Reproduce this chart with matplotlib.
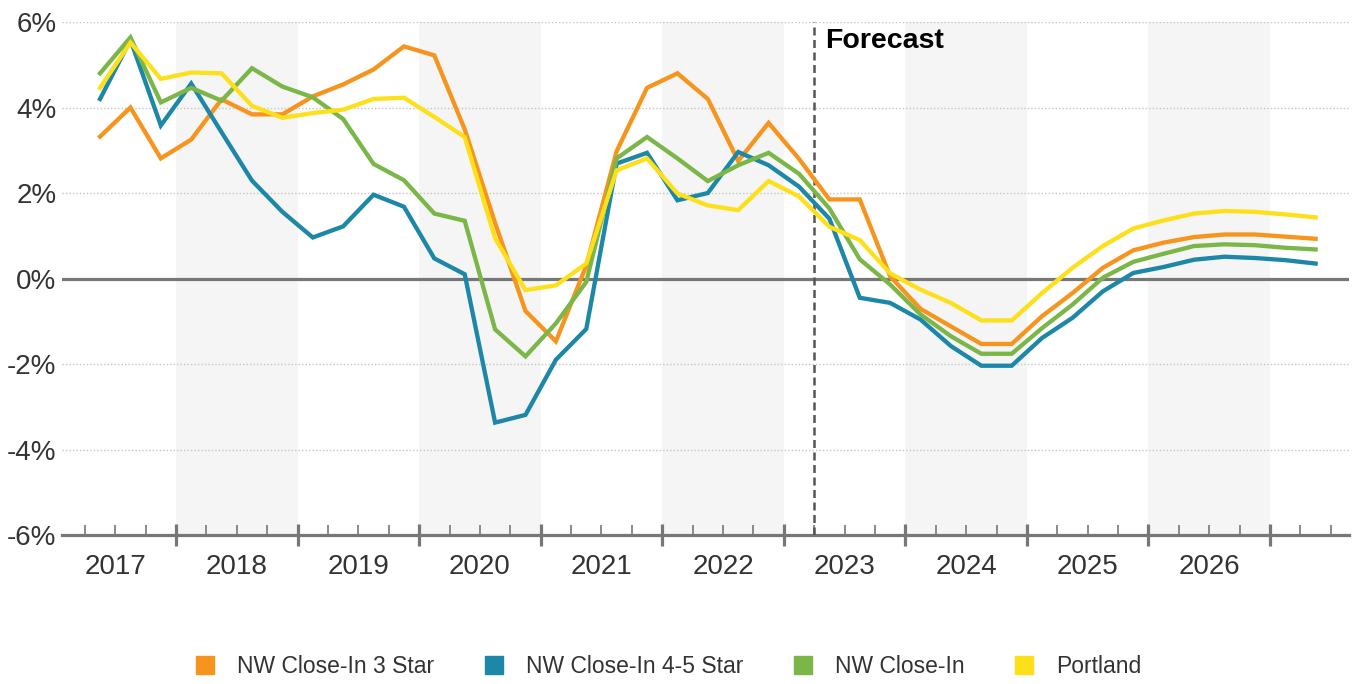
"""
Year-over-year rent growth, NW Close-In vs Portland, with forecast.
Saves out.png (1361x684).
"""

import numpy as np
import matplotlib
matplotlib.use("Agg")
import matplotlib.pyplot as plt
from matplotlib.lines import Line2D

# quarterly series, 2017 Q2 .. 2027 Q2
first_quarter = "2017Q2"
years = ["2017", "2018", "2019", "2020", "2021", "2022", "2023", "2024", "2025", "2026"]
forecast_start = "2023Q2"

nw_3star = [3.32, 4.00, 2.81, 3.25, 4.19, 3.84, 3.84, 4.26, 4.54, 4.89, 5.43, 5.22, 3.49, 1.30,
            -0.76, -1.47, 0.30, 2.98, 4.46, 4.80, 4.20, 2.75, 3.64, 2.80, 1.85, 1.85, 0.05,
            -0.71, -1.12, -1.53, -1.53, -0.88, -0.34, 0.25, 0.66, 0.84, 0.97, 1.03, 1.03, 0.98, 0.93]
nw_45star = [4.20, 5.58, 3.58, 4.56, 3.42, 2.29, 1.56, 0.96, 1.22, 1.96, 1.68, 0.47, 0.10, -3.37,
             -3.19, -1.90, -1.18, 2.69, 2.94, 1.83, 2.00, 2.96, 2.65, 2.15, 1.40, -0.45, -0.57,
             -0.96, -1.58, -2.04, -2.04, -1.39, -0.92, -0.30, 0.13, 0.27, 0.44, 0.51, 0.48, 0.43, 0.35]
nw_all = [4.80, 5.64, 4.12, 4.46, 4.16, 4.92, 4.49, 4.24, 3.73, 2.68, 2.30, 1.52, 1.35, -1.19,
          -1.82, -1.05, -0.08, 2.81, 3.31, 2.81, 2.28, 2.65, 2.94, 2.45, 1.64, 0.45, -0.14,
          -0.84, -1.35, -1.76, -1.76, -1.16, -0.61, 0.02, 0.39, 0.58, 0.76, 0.80, 0.78, 0.72, 0.68]
portland = [4.46, 5.52, 4.67, 4.82, 4.80, 4.04, 3.76, 3.87, 3.95, 4.20, 4.23, 3.78, 3.31, 0.94,
            -0.27, -0.16, 0.35, 2.53, 2.81, 1.99, 1.71, 1.60, 2.28, 1.92, 1.21, 0.90, 0.12,
            -0.26, -0.57, -0.98, -0.98, -0.34, 0.25, 0.76, 1.17, 1.36, 1.52, 1.58, 1.56, 1.50, 1.43]

series_names = ["NW Close-In 3 Star", "NW Close-In 4-5 Star", "NW Close-In", "Portland"]
series_colors = ["#F7941D", "#1C87A7", "#7AB648", "#FDE01A"]
y_ticks = [-6, -4, -2, 0, 2, 4, 6]


def quarter_pos(label):
    """Position in quarters since 2017-01-01, centred in the quarter."""
    y, q = int(label[:4]), int(label[-1])
    return (y - 2017) * 4 + q - 0.5


def main() -> None:
    plt.rcParams["font.family"] = ["Liberation Sans", "DejaVu Sans"]

    fig = plt.figure(figsize=(13.61, 6.84), dpi=100)
    ax = fig.add_axes([0.0456, 0.2178, 0.9456, 0.75])

    x0 = quarter_pos(first_quarter)
    x = x0 + np.arange(len(nw_3star))

    # shaded alternate years
    for k in range(1, len(years), 2):
        ax.axvspan(4 * k, 4 * k + 4, color="#F5F5F5", zorder=0, lw=0)

    # grid
    for v in y_ticks:
        if v in (0, -6):
            continue
        ax.axhline(v, color="#C4C4C4", lw=1.0, ls=(0, (1, 1.5)), zorder=1)
    ax.axhline(0, color="#777777", lw=2.3, zorder=2)

    # forecast marker
    fx = quarter_pos(forecast_start) - 0.5
    ax.axvline(fx, color="#555555", lw=1.8, ls=(0, (3.2, 1.8)), zorder=3)
    ax.text(fx + 0.35, 5.86, "Forecast", fontsize=20.5, fontweight="bold",
            va="top", ha="left", color="black", zorder=6)

    for vals, col in zip([nw_3star, nw_45star, nw_all, portland], series_colors):
        ax.plot(x, vals, color=col, lw=3.1, zorder=4, solid_joinstyle="miter")

    ax.set_xlim(0.25, 42.6)
    ax.set_ylim(-6, 6)

    for s in ["top", "right", "left"]:
        ax.spines[s].set_visible(False)
    ax.spines["bottom"].set_color("#777777")
    ax.spines["bottom"].set_linewidth(2.3)

    ax.set_yticks(y_ticks)
    ax.set_yticklabels([f"{v}%" for v in y_ticks])
    ax.tick_params(axis="y", length=0, pad=4, labelsize=20, labelcolor="#333333")

    ax.set_xticks(np.arange(4, 4 * len(years) + 1, 4))
    ax.set_xticklabels([])
    ax.set_xticks([q for q in range(1, 43) if q % 4], minor=True)
    ax.tick_params(axis="x", which="major", direction="inout", length=16,
                   width=2.3, color="#777777")
    ax.tick_params(axis="x", which="minor", direction="in", length=7.5,
                   width=1.2, color="#777777")

    sec = ax.secondary_xaxis("bottom")
    sec.set_xticks([4 * k + 2 for k in range(len(years))], labels=years)
    sec.tick_params(length=0, pad=14, labelsize=20, labelcolor="#333333")
    sec.spines["bottom"].set_visible(False)

    handles = [Line2D([], [], ls="none", marker="s", markersize=13.5,
                      markerfacecolor=c, markeredgecolor=c) for c in series_colors]
    fig.legend(handles, series_names, loc="center", bbox_to_anchor=(0.4905, 0.025),
               ncol=4, frameon=False, fontsize=16.5, handlelength=1.0,
               handletextpad=0.9, columnspacing=2.1, labelcolor="#333333")

    fig.savefig("out.png", dpi=100, facecolor="white")


if __name__ == "__main__":
    main()
